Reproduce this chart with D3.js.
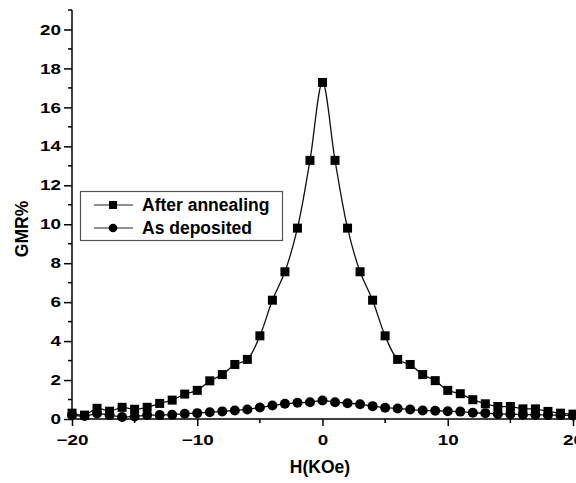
<!DOCTYPE html>
<html><head><meta charset="utf-8">
<script src="https://cdn.jsdelivr.net/npm/d3@7"></script>
<style>body{margin:0;background:#fff}svg{display:block}text{font-family:"Liberation Sans",Arial,sans-serif;font-weight:bold}</style>
</head><body><svg id="c" width="576" height="483"></svg>
<script>
const fieldH = d3.range(-20, 21, 1);
const afterAnnealing = [0.3,0.2,0.55,0.4,0.6,0.5,0.6,0.8,0.97,1.28,1.47,1.96,2.28,2.8,3.06,4.27,6.1,7.56,9.8,13.28,17.28,13.28,9.8,7.56,6.1,4.27,3.06,2.8,2.28,1.97,1.47,1.3,0.99,0.78,0.64,0.64,0.52,0.52,0.39,0.3,0.25];
const asDeposited = [0.2,0.15,0.28,0.2,0.1,0.13,0.2,0.2,0.22,0.27,0.3,0.35,0.39,0.44,0.49,0.59,0.69,0.78,0.83,0.86,0.95,0.86,0.81,0.76,0.66,0.58,0.54,0.49,0.44,0.42,0.4,0.38,0.32,0.3,0.26,0.25,0.22,0.22,0.2,0.2,0.18];
const xMajor = [-20,-10,0,10,20], xMinor = [-15,-5,5,15];
const yMajor = [0,2,4,6,8,10,12,14,16,18,20];
const yMinor = [1,3,5,7,9,11,13,15,17,19,21];
const seriesNames = ["After annealing","As deposited"];

const svg = d3.select("#c");
const x = d3.scaleLinear().domain([-20,20]).range([72,573]);
const y = d3.scaleLinear().domain([0,21]).range([419,10]);
const SX = 1.3;

// axes
const gy = svg.append("g").attr("transform","translate(72,0)");
gy.call(d3.axisLeft(y).tickValues(yMajor).tickSize(8).tickPadding(3));
gy.selectAll(".tick text").attr("font-size",14.5).attr("fill","#000")
  .attr("x",-11/SX).attr("transform","scale("+SX+",1)");
gy.selectAll(".tick line").attr("stroke","#000").attr("stroke-width",1.5);
gy.select(".domain").attr("stroke","#000").attr("stroke-width",1.5).attr("d","M0,"+y(21)+"V"+y(0));
gy.selectAll(".minor").data(yMinor).enter().append("line").attr("x1",0).attr("x2",-4)
  .attr("y1",d=>y(d)).attr("y2",d=>y(d)).attr("stroke","#000").attr("stroke-width",1.5);

const gx = svg.append("g").attr("transform","translate(0,419)");
gx.call(d3.axisBottom(x).tickValues(xMajor).tickSize(7).tickPadding(9));
gx.selectAll(".tick text").attr("font-size",14.5).attr("fill","#000").attr("transform","scale("+SX+",1)");
gx.selectAll(".tick line").attr("stroke","#000").attr("stroke-width",1.5);
gx.select(".domain").attr("stroke","#000").attr("stroke-width",1.5).attr("d","M"+x(-20)+",0H"+x(20));
gx.selectAll(".minor").data(xMinor).enter().append("line").attr("y1",0).attr("y2",4)
  .attr("x1",d=>x(d)).attr("x2",d=>x(d)).attr("stroke","#000").attr("stroke-width",1.5);

svg.append("text").attr("x",320).attr("y",473).attr("text-anchor","middle").attr("font-size",17.5).text("H(KOe)");
svg.append("text").attr("transform","translate(28,229) rotate(-90)").attr("text-anchor","middle").attr("font-size",17.5).text("GMR%");

// lines
const line = d3.line().x((d,i)=>x(fieldH[i])).y(d=>y(d)).curve(d3.curveCatmullRom.alpha(0.5));
const plot = svg.append("g");
plot.append("path").datum(afterAnnealing).attr("d",line).attr("fill","none").attr("stroke","#111").attr("stroke-width",1.3);
plot.append("path").datum(asDeposited).attr("d",line).attr("fill","none").attr("stroke","#111").attr("stroke-width",1.3);
plot.selectAll(".sq").data(afterAnnealing).enter().append("rect")
  .attr("x",(d,i)=>x(fieldH[i])-4.5).attr("y",d=>y(d)-4.5).attr("width",9).attr("height",9).attr("fill","#000");
plot.selectAll(".ci").data(asDeposited).enter().append("circle")
  .attr("cx",(d,i)=>x(fieldH[i])).attr("cy",d=>y(d)).attr("r",5).attr("fill","#000");

// legend
const lg = svg.append("g");
lg.append("rect").attr("x",80.5).attr("y",191.5).attr("width",202).attr("height",49).attr("fill","#fff").attr("stroke","#555").attr("stroke-width",1.2);
[205,228].forEach((yy,k)=>{
  lg.append("line").attr("x1",94).attr("x2",133).attr("y1",yy).attr("y2",yy).attr("stroke","#222").attr("stroke-width",1.2);
  if(k===0) lg.append("rect").attr("x",109).attr("y",yy-4).attr("width",8).attr("height",8).attr("fill","#000");
  else lg.append("circle").attr("cx",113).attr("cy",yy).attr("r",4.3).attr("fill","#000");
  lg.append("text").attr("x",142).attr("y",yy+6).attr("font-size",17.5).text(seriesNames[k]);
});
</script></body></html>
